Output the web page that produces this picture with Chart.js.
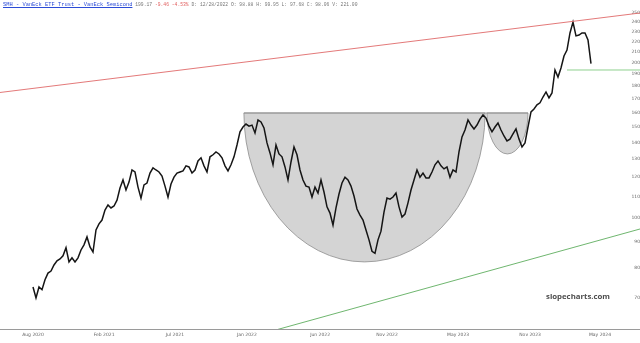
<!DOCTYPE html>
<html>
<head>
<meta charset="utf-8">
<script src="https://cdn.jsdelivr.net/npm/chart.js@4/dist/chart.umd.min.js"></script>
<style>
  html, body { margin: 0; padding: 0; background: #fff; }
  #wrap { position: relative; width: 640px; height: 343px; }
  #head { position: absolute; left: 3px; top: 1px; font-family: 'Liberation Mono', monospace; font-size: 4.7px; line-height: 8px; color: #777; white-space: pre; }
  #head .sym { color: #2b4bd6; text-decoration: underline; font-size: 5.4px; }
  #head .chg { color: #e05a5a; }
  #mark { position: absolute; left: 546px; top: 291px; font-family: 'Open Sans', sans-serif; font-weight: 700; font-size: 7.8px; color: #4d4d4d; }
</style>
</head>
<body>
<div id="wrap">
  <canvas id="chart" width="640" height="343"></canvas>
  <div id="head"><span class="sym">SMH - VanEck ETF Trust - VanEck Semicond</span> 199.17 <span class="chg">-9.46 -4.53%</span> D: 12/28/2022 O: 98.88 H: 99.95 L: 97.68 C: 98.06 V: 221.00</div>
  <div id="mark">slopecharts.com</div>
</div>
<script>
// closing prices, one per bar
const closes = [
  73.5, 70.0, 73.5, 72.6, 75.9, 78.2, 78.9, 81.1, 82.6, 83.3,
  84.5, 87.6, 82.2, 83.7, 82.2, 83.7, 86.7, 88.7, 91.9, 87.9,
  85.9, 94.8, 97.4, 99.1, 103.6, 106.0, 104.6, 105.5, 108.3, 114.3,
  118.5, 113.3, 117.4, 123.9, 122.8, 114.8, 109.3, 115.9, 116.9, 122.2,
  125.1, 123.9, 122.8, 120.6, 115.3, 109.8, 116.4, 120.0, 122.2, 122.8,
  123.4, 126.2, 125.6, 122.2, 123.9, 129.0, 130.8, 126.2, 122.8, 131.4,
  132.6, 134.3, 133.1, 130.8, 126.2, 123.4, 126.8, 131.4, 138.5, 146.9,
  150.1, 152.1, 150.7, 151.4, 146.2, 154.9, 153.5, 149.5, 139.8, 133.7,
  126.8, 138.5, 133.1, 131.4, 125.6, 118.5, 128.4, 137.3, 132.6, 123.9,
  118.5, 115.3, 114.8, 109.8, 114.8, 111.8, 118.5, 112.3, 105.1, 102.2,
  96.9, 104.6, 111.3, 116.9, 120.0, 118.5, 115.3, 110.3, 104.1, 101.3,
  99.1, 94.8, 90.7, 86.2, 85.4, 90.7, 94.3, 102.7, 109.3, 108.8,
  109.8, 111.8, 105.1, 100.4, 101.8, 107.0, 113.3, 118.5, 123.9, 120.0,
  122.2, 119.6, 119.6, 122.8, 126.8, 129.0, 126.2, 124.5, 125.6, 120.0,
  123.9, 122.8, 134.3, 143.6, 148.1, 154.9, 151.4, 148.8, 151.4, 155.5,
  158.4, 156.2, 150.7, 146.9, 150.1, 152.8, 148.1, 144.2, 141.1, 142.2,
  145.5, 148.8, 142.2, 137.3, 139.8, 150.1, 160.6, 162.7, 165.7, 167.2,
  171.6, 175.5, 170.9, 174.7, 193.6, 187.6, 195.3, 206.1, 211.6, 228.4,
  239.8, 225.4, 226.3, 228.4, 228.4, 221.4, 199.17
];

// x tick positions (bar index) and their labels
const xTickBars = [0, 23.7, 47.3, 71.3, 95.7, 118, 141.7, 165.7, 189];
const xTickLabels = ['Aug 2020', 'Feb 2021', 'Jul 2021', 'Jan 2022', 'Jun 2022', 'Nov 2022', 'May 2023', 'Nov 2023', 'May 2024'];
const yTicks = [70, 80, 90, 100, 110, 120, 130, 140, 150, 160, 170, 180, 190, 200, 210, 220, 230, 240, 250];

// cup and handle: [start bar, end bar] and [rim price, bottom price]
const cupBars = [70.3, 150.7];
const cupPrices = [159.8, 82.2];
const handleBars = [151.3, 165];
const handlePrices = [159.8, 133.1];

// trend lines: two [bar, price] anchors each
const resistance = [[-11, 175.1], [189, 244.2]];
const support = [[83.3, 61.2], [202.3, 95.2]];
const breakLevel = 193.6;
const breakFromBar = 178;

const overlay = {
  id: 'overlay',
  beforeDatasetsDraw(chart) {
    const { ctx, scales: { x, y } } = chart;
    ctx.save();
    [[cupBars, cupPrices], [handleBars, handlePrices]].forEach(([bars, prices]) => {
      const x0 = x.getPixelForValue(bars[0]);
      const x1 = x.getPixelForValue(bars[1]);
      const top = y.getPixelForValue(prices[0]);
      const bot = y.getPixelForValue(prices[1]);
      ctx.beginPath();
      ctx.ellipse((x0 + x1) / 2, top, (x1 - x0) / 2, bot - top, 0, 0, Math.PI);
      ctx.closePath();
      ctx.fillStyle = '#d4d4d4';
      ctx.fill();
      ctx.strokeStyle = '#8c8c8c';
      ctx.lineWidth = 0.8;
      ctx.stroke();
    });
    // rim across cup and handle
    const rimY = y.getPixelForValue(cupPrices[0]);
    ctx.beginPath();
    ctx.moveTo(x.getPixelForValue(cupBars[0]), rimY);
    ctx.lineTo(x.getPixelForValue(handleBars[1]), rimY);
    ctx.strokeStyle = '#8c8c8c';
    ctx.lineWidth = 0.8;
    ctx.stroke();
    ctx.restore();
  },
  afterDatasetsDraw(chart) {
    const { ctx, chartArea, scales: { x, y } } = chart;
    const W = chart.width;
    ctx.save();
    ctx.beginPath();
    ctx.rect(0, 0, W, chartArea.bottom);
    ctx.clip();
    const drawTrend = (pts, color) => {
      const ax = x.getPixelForValue(pts[0][0]), ay = y.getPixelForValue(pts[0][1]);
      const bx = x.getPixelForValue(pts[1][0]), by = y.getPixelForValue(pts[1][1]);
      const k = (by - ay) / (bx - ax);
      ctx.beginPath();
      ctx.moveTo(0, ay - k * ax);
      ctx.lineTo(W, ay + k * (W - ax));
      ctx.strokeStyle = color;
      ctx.lineWidth = 0.9;
      ctx.stroke();
    };
    drawTrend(resistance, '#e06a6a');
    drawTrend(support, '#5fae5f');
    const by = y.getPixelForValue(breakLevel);
    ctx.beginPath();
    ctx.moveTo(x.getPixelForValue(breakFromBar), by);
    ctx.lineTo(W, by);
    ctx.strokeStyle = '#8fd08f';
    ctx.lineWidth = 1;
    ctx.stroke();
    ctx.restore();
    // baseline under the plot
    ctx.save();
    ctx.beginPath();
    ctx.moveTo(0, chartArea.bottom + 0.5);
    ctx.lineTo(W, chartArea.bottom + 0.5);
    ctx.strokeStyle = '#9a9a9a';
    ctx.lineWidth = 1;
    ctx.stroke();
    ctx.restore();
  }
};

new Chart(document.getElementById('chart'), {
  type: 'line',
  data: {
    datasets: [{
      label: 'SMH',
      data: closes.map((c, i) => ({ x: i, y: c })),
      borderColor: '#151515',
      borderWidth: 1.5,
      pointRadius: 0,
      tension: 0
    }]
  },
  options: {
    responsive: false,
    animation: false,
    devicePixelRatio: 1,
    layout: { padding: 0 },
    plugins: { legend: { display: false }, tooltip: { enabled: false } },
    scales: {
      x: {
        type: 'linear',
        min: -11,
        max: 190.67,
        grid: { display: false, drawTicks: false },
        border: { display: false },
        afterBuildTicks: s => { s.ticks = xTickBars.map(v => ({ value: v })); },
        afterFit: s => { s.height = 14; },
        ticks: {
          autoSkip: false,
          maxRotation: 0,
          padding: 3,
          color: '#666',
          font: { size: 4.5, family: 'DejaVu Sans' },
          callback: v => xTickLabels[xTickBars.indexOf(v)]
        }
      },
      y: {
        type: 'logarithmic',
        position: 'right',
        min: 60.93,
        max: 264.6,
        grid: { display: false, drawTicks: false },
        border: { display: false },
        afterBuildTicks: s => { s.ticks = yTicks.map(v => ({ value: v })); },
        afterFit: s => { s.width = 35; s.paddingTop = 0; s.paddingBottom = 0; },
        ticks: {
          crossAlign: 'far',
          padding: 2,
          color: '#666',
          font: { size: 4.5, family: 'DejaVu Sans', lineHeight: 0.1 },
          callback: v => String(v)
        }
      }
    }
  },
  plugins: [overlay]
});
</script>
</body>
</html>
